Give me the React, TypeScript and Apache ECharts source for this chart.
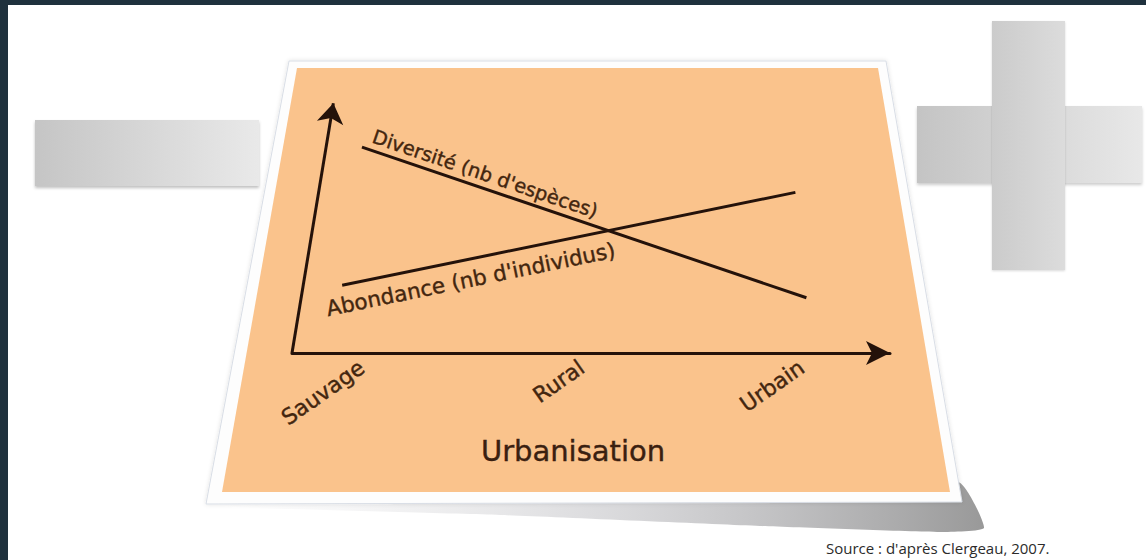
import React, { useEffect, useRef } from 'react';
import * as echarts from 'echarts';

// ---- data ----
const categories = ['Sauvage', 'Rural', 'Urbain'];
const categoryPositions = [0, 1, 2];
const diversite = [[0.0, 8.2], [2.02, 2.2]];
const abondance = [[-0.09, 2.7], [1.97, 6.4]];
const seriesNames = ["Diversité (nb d'espèces)", "Abondance (nb d'individus)"];
const axisTitle = 'Urbanisation';
const yArrow = [[-0.318, 0], [-0.13, 9.95]];
const xRange = [-0.318, 2.4];
const yRange = [0, 10];
const sourceText = "Source : d'après Clergeau, 2007.";

const INK = '#24120a';
const TEXT = '#43260f';
const FONT = 'DejaVu Sans';

export default function App() {
  const ref = useRef<HTMLDivElement>(null);
  useEffect(() => {
    if (!ref.current) return;
    const chart = echarts.init(ref.current, null, { renderer: 'svg' });
    const grad = (c1: string, c2: string) =>
      new echarts.graphic.LinearGradient(0, 0, 1, 0, [
        { offset: 0, color: c1 },
        { offset: 1, color: c2 },
      ]);
    const txt = (size: number) => ({
      fontFamily: FONT,
      fontSize: size,
      color: TEXT,
      textBorderColor: TEXT,
      textBorderWidth: 0.4,
    });
    chart.setOption({
      animation: false,
      backgroundColor: '#ffffff',
      graphic: [
        // frame
        { type: 'rect', z: 0, shape: { x: 0, y: 0, width: 1146, height: 5 }, style: { fill: '#1f313d' } },
        { type: 'rect', z: 0, shape: { x: 0, y: 0, width: 8, height: 560 }, style: { fill: '#1f313d' } },
        // minus sign
        {
          type: 'rect', z: 0, shape: { x: 35, y: 120, width: 224, height: 66 },
          style: { fill: grad('#c5c5c5', '#e9e9e9'), shadowBlur: 3, shadowOffsetY: 2, shadowColor: 'rgba(0,0,0,0.25)' },
        },
        // plus sign
        {
          type: 'rect', z: 0, shape: { x: 917, y: 106, width: 225, height: 77 },
          style: { fill: grad('#c4c4c4', '#e8e8e8'), shadowBlur: 3, shadowOffsetY: 2, shadowColor: 'rgba(0,0,0,0.2)' },
        },
        {
          type: 'rect', z: 0, shape: { x: 992, y: 21, width: 73, height: 249 },
          style: { fill: grad('#cbcbcb', '#dcdcdc'), shadowBlur: 2, shadowOffsetY: 1, shadowColor: 'rgba(0,0,0,0.15)' },
        },
        // page curl shadow
        {
          type: 'polygon', z: 0,
          shape: { points: [[225, 502], [958, 482], [984, 528], [940, 532], [760, 526], [500, 515], [225, 507]], smooth: 0.15 },
          style: {
            fill: new echarts.graphic.LinearGradient(0, 0, 1, 0, [
              { offset: 0, color: 'rgba(200,200,205,0)' },
              { offset: 0.5, color: 'rgba(175,175,180,0.45)' },
              { offset: 1, color: 'rgba(135,135,135,0.85)' },
            ]),
          },
        },
        // card white border
        {
          type: 'polygon', z: 1,
          shape: { points: [[289, 61], [886, 61], [962, 502], [206, 504]] },
          style: { fill: '#fdfdfd', stroke: '#d9dee6', lineWidth: 1, shadowBlur: 4, shadowColor: 'rgba(0,0,0,0.12)' },
        },
        // card
        {
          type: 'polygon', z: 1,
          shape: { points: [[297, 68], [878, 68], [950, 492], [222, 492]] },
          style: { fill: '#fac38c' },
        },
        // source
        {
          type: 'text', z: 1, x: 826, y: 548,
          style: { text: sourceText, fill: '#2b2b2b', font: '15px "Open Sans"', verticalAlign: 'middle' },
        },
      ],
      grid: { left: 292, top: 102, width: 598, height: 251, containLabel: false },
      xAxis: {
        type: 'value',
        z: 10,
        min: xRange[0],
        max: xRange[1],
        axisLine: { show: true, onZero: false, symbol: ['none', 'arrow'], symbolSize: [18, 24], lineStyle: { color: INK, width: 3 } },
        axisTick: { show: false },
        splitLine: { show: false },
        axisLabel: {
          customValues: categoryPositions,
          formatter: (v: number) => categories[Math.round(v)] ?? '',
          rotate: 35,
          margin: 12,
          ...txt(22),
        },
        name: axisTitle,
        nameLocation: 'middle',
        nameGap: 83,
        nameTextStyle: { ...txt(29), color: '#3a2010', textBorderColor: '#3a2010', padding: [0, 36, 0, 0] },
      },
      yAxis: { type: 'value', min: yRange[0], max: yRange[1], show: false },
      series: [
        {
          type: 'line',
          name: seriesNames[0],
          data: diversite,
          symbol: 'none',
          z: 12,
          lineStyle: { color: INK, width: 3 },
          markLine: {
            silent: true,
            z: 12,
            symbol: ['none', 'none'],
            lineStyle: { color: 'rgba(0,0,0,0)', width: 0 },
            label: {
              show: true, position: 'insideStartTop', distance: [7, 4], formatter: seriesNames[0],
              ...txt(19.5),
            },
            data: [[{ coord: diversite[0] }, { coord: diversite[1] }]],
          },
        },
        {
          type: 'line',
          name: seriesNames[1],
          data: abondance,
          symbol: 'none',
          z: 12,
          lineStyle: { color: INK, width: 3 },
          markLine: {
            silent: true,
            z: 12,
            symbol: ['none', 'none'],
            lineStyle: { color: 'rgba(0,0,0,0)', width: 0 },
            label: {
              show: true, position: 'insideStartBottom', distance: [-20, 9], formatter: seriesNames[1],
              ...txt(21.5),
            },
            data: [[{ coord: abondance[0] }, { coord: abondance[1] }]],
          },
        },
        {
          type: 'lines',
          coordinateSystem: 'cartesian2d',
          z: 12,
          symbol: ['none', 'arrow'],
          symbolSize: 20,
          lineStyle: { color: INK, width: 3, opacity: 1, curveness: 0 },
          data: [{ coords: yArrow }],
        },
      ],
    });
    return () => chart.dispose();
  }, []);
  return (
    <div
      ref={ref}
      style={{ position: 'fixed', left: 0, top: 0, width: 1146, height: 560 }}
    />
  );
}
